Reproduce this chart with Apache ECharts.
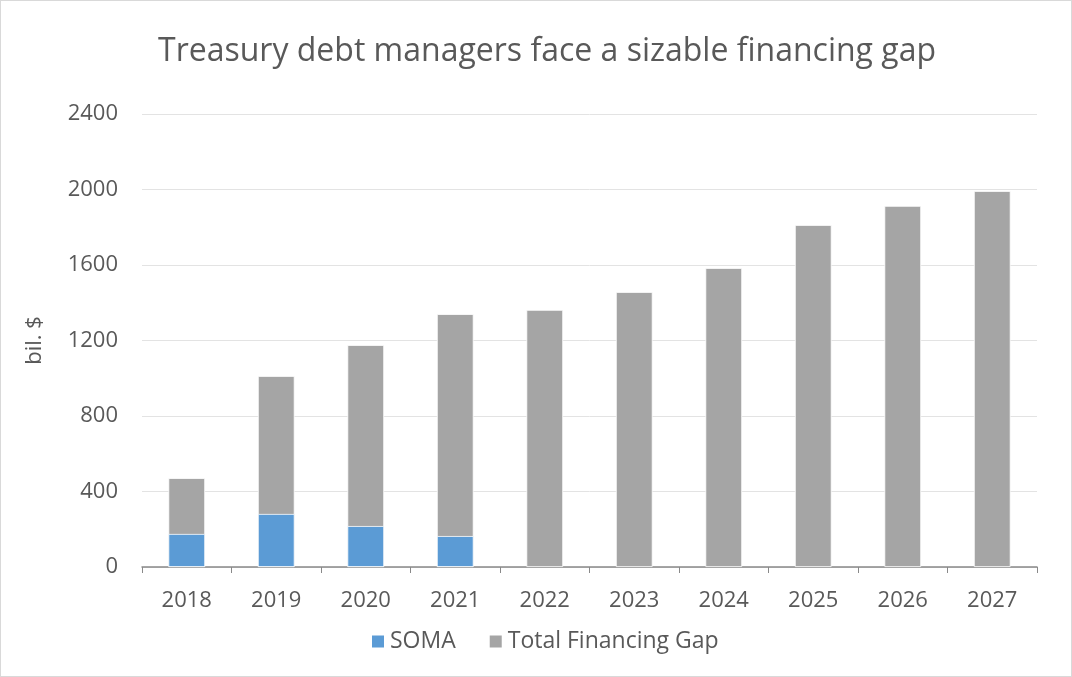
<!DOCTYPE html>
<html>
<head>
<meta charset="utf-8">
<script src="https://cdn.jsdelivr.net/npm/echarts@6/dist/echarts.min.js"></script>
<style>
html,body{margin:0;padding:0;background:#fff;}
#wrap{position:absolute;left:0;top:0;width:1070px;height:675px;border:1px solid #d9d9d9;}
#chart{width:1070px;height:675px;}
</style>
</head>
<body>
<div id="wrap"><div id="chart"></div></div>
<script>
const categories = ['2018','2019','2020','2021','2022','2023','2024','2025','2026','2027'];
const totalGap = [471, 1012, 1176, 1340, 1362, 1457, 1584, 1812, 1913, 1992];
const soma = [175, 281, 217, 164, null, null, null, null, null, null];
const yTicks = [0, 400, 800, 1200, 1600, 2000, 2400];

const FONT = '"Open Sans", "Noto Sans", sans-serif';
const chart = echarts.init(document.getElementById('chart'));
chart.setOption({
  animation: false,
  textStyle: { fontFamily: FONT },
  title: {
    text: 'Treasury debt managers face a sizable financing gap',
    left: 152, top: 30,
    textStyle: { fontFamily: FONT, fontSize: 32, fontWeight: 'normal', color: '#595959' }
  },
  grid: { left: 141, right: 34, top: 113, bottom: 109, containLabel: false },
  legend: {
    data: ['SOMA', 'Total Financing Gap'],
    bottom: 18, left: 364,
    itemWidth: 14, itemHeight: 14, itemGap: 32,
    icon: 'rect',
    textStyle: { fontFamily: FONT, fontSize: 23, color: '#595959' }
  },
  xAxis: {
    type: 'category', data: categories,
    axisLine: { lineStyle: { color: '#898989', width: 1.5 } },
    axisTick: { show: true, length: 6, lineStyle: { color: '#898989' } },
    axisLabel: { fontSize: 22, color: '#595959', margin: 23 }
  },
  yAxis: {
    type: 'value', min: yTicks[0], max: yTicks[yTicks.length-1], interval: 400,
    name: 'bil. $', nameLocation: 'middle', nameGap: 96, nameRotate: 90,
    nameTextStyle: { fontSize: 22, color: '#595959' },
    axisLine: { show: false }, axisTick: { show: false },
    axisLabel: { fontSize: 22, color: '#595959', margin: 24, formatter: v => String(v) },
    splitLine: { lineStyle: { color: '#e3e3e3', width: 1 } }
  },
  series: [
    { name: 'Total Financing Gap', type: 'bar', data: totalGap, barWidth: '41%',
      itemStyle: { color: '#a5a5a5', borderColor: '#ffffff', borderWidth: 0.8 } },
    { name: 'SOMA', type: 'bar', data: soma, barWidth: '41%', barGap: '-100%',
      itemStyle: { color: '#5b9bd5', borderColor: '#ffffff', borderWidth: 0.8 } }
  ]
});
</script>
</body>
</html>
